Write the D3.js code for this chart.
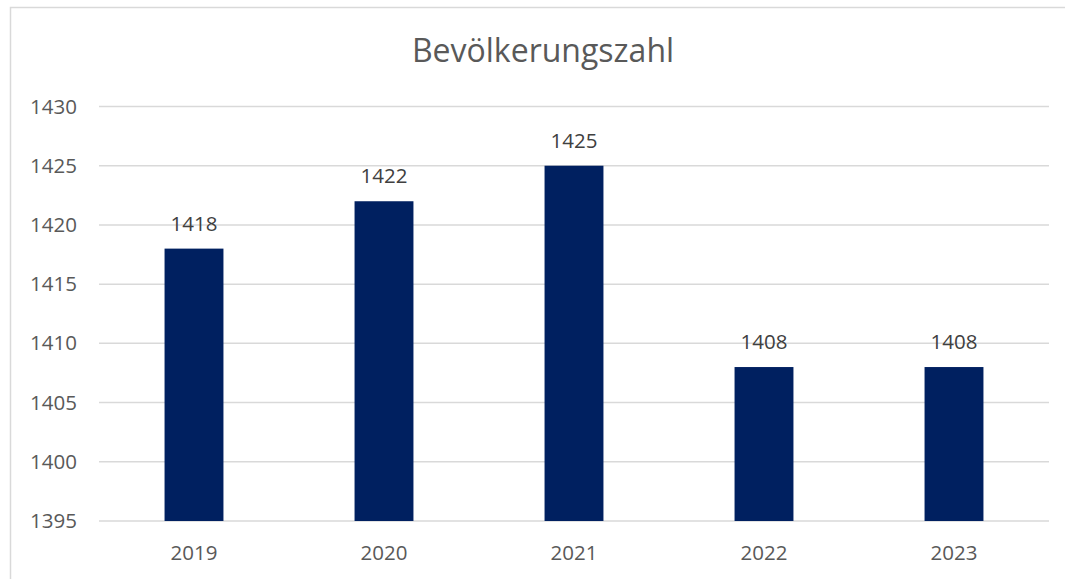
<!DOCTYPE html>
<html><head><meta charset="utf-8">
<script src="https://cdn.jsdelivr.net/npm/d3@7"></script>
<style>body{margin:0;background:#fff;} svg{display:block;}</style>
</head><body>
<script>
const categories = ["2019","2020","2021","2022","2023"];
const values = [1418,1422,1425,1408,1408];
const yTicks = [1395,1400,1405,1410,1415,1420,1425,1430];
const title = "Bevölkerungszahl";

(function(){
const W = 1065, H = 579;
const svg = d3.select("body").append("svg").attr("width", W).attr("height", H);
const font = "'Open Sans', sans-serif";
const textColor = "#595959";

// chart border
svg.append("rect").attr("x", 10.5).attr("y", 7.5).attr("width", 1100).attr("height", 700)
  .attr("fill", "none").attr("stroke", "#d9d9d9").attr("stroke-width", 1.5);

const pLeft = 99, pRight = 1049, pTop = 106.5, pBottom = 521;
const x = d3.scaleBand().domain(categories).range([pLeft, pRight]).paddingInner(0.69).paddingOuter(0.345);
const y = d3.scaleLinear().domain([1395, 1430]).range([pBottom, pTop]);

// gridlines
svg.append("g").selectAll("line").data(yTicks).join("line")
  .attr("x1", pLeft).attr("x2", pRight)
  .attr("y1", d => y(d)).attr("y2", d => y(d))
  .attr("stroke", "#d9d9d9").attr("stroke-width", 1.5);

// y axis
const yAxis = d3.axisLeft(y).tickValues(yTicks).tickSize(0).tickPadding(0).tickFormat(d3.format("d"));
const gy = svg.append("g").attr("transform", `translate(77,0)`).call(yAxis);
gy.select(".domain").remove();
gy.selectAll("text").attr("fill", textColor).style("font-family", font).style("font-size", "20.5px").attr("dy", "0.32em");

// x axis
const xAxis = d3.axisBottom(x).tickSize(0).tickPadding(0);
const gx = svg.append("g").attr("transform", `translate(0,${pBottom})`).call(xAxis);
gx.select(".domain").remove();
gx.selectAll("text").attr("fill", textColor).style("font-family", font).style("font-size", "20.5px")
  .attr("dy", null).attr("y", 39);

// bars
svg.append("g").selectAll("rect").data(values).join("rect")
  .attr("x", (d,i) => x(categories[i]))
  .attr("width", x.bandwidth())
  .attr("y", d => y(d))
  .attr("height", d => y(1395) - y(d))
  .attr("fill", "#002060");

// labels
svg.append("g").selectAll("text").data(values).join("text")
  .attr("x", (d,i) => x(categories[i]) + x.bandwidth()/2)
  .attr("y", d => y(d) - 18)
  .attr("text-anchor", "middle")
  .attr("fill", "#404040")
  .style("font-family", font).style("font-size", "20.5px")
  .text(d => d);

// title
svg.append("text").attr("x", 543).attr("y", 62).attr("text-anchor", "middle")
  .attr("fill", textColor).style("font-family", font).style("font-size", "32px")
  .text(title);
})();
</script>
</body></html>
